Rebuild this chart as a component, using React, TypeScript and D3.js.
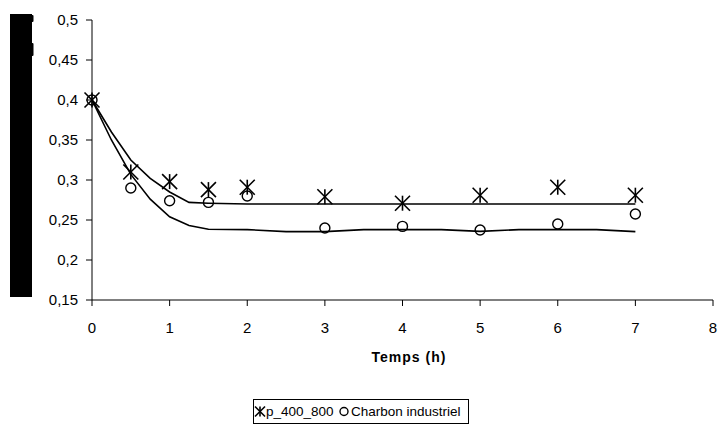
import React from "react";
import * as d3 from "d3";

const times = [0, 0.5, 1, 1.5, 2, 3, 4, 5, 6, 7];
const pSeries = [0.4, 0.31, 0.298, 0.288, 0.291, 0.279, 0.271, 0.281, 0.291, 0.281];
const charbonSeries = [0.4, 0.29, 0.274, 0.272, 0.28, 0.24, 0.242, 0.2375, 0.245, 0.2575];

const modelTimes = [0, 0.25, 0.5, 0.75, 1, 1.25, 1.5, 2, 2.5, 3, 3.5, 4, 4.5, 5, 5.5, 6, 6.5, 7];
const pModel = [0.4, 0.36, 0.325, 0.302, 0.285, 0.272, 0.271, 0.27, 0.27, 0.27, 0.27, 0.27, 0.27, 0.27, 0.27, 0.27, 0.27, 0.27];
const charbonModel = [0.4, 0.35, 0.307, 0.276, 0.254, 0.243, 0.2385, 0.238, 0.2355, 0.2355, 0.238, 0.238, 0.238, 0.2358, 0.238, 0.238, 0.238, 0.2355];

const xTicks = [0, 1, 2, 3, 4, 5, 6, 7, 8];
const yTicks = [0.15, 0.2, 0.25, 0.3, 0.35, 0.4, 0.45, 0.5];
const xTitle = "Temps (h)";
const legendLabels = ["p_400_800", "Charbon industriel"];

const FONT = "'Liberation Sans', Arial, sans-serif";

function Asterisk({ x, y, s }: { x: number; y: number; s: number }) {
  return (
    <g stroke="#000" strokeWidth={1.6} fill="none">
      <line x1={x - s} y1={y - s} x2={x + s} y2={y + s} />
      <line x1={x - s} y1={y + s} x2={x + s} y2={y - s} />
      <line x1={x} y1={y - s} x2={x} y2={y + s} />
    </g>
  );
}

export default function App() {
  const x = d3.scaleLinear().domain([0, 8]).range([92, 713]);
  const y = d3.scaleLinear().domain([0.15, 0.5]).range([300, 20]);
  const fmt = (v: number) => d3.format("~g")(+v.toFixed(2)).replace(".", ",");
  const line = d3
    .line<number>()
    .x((_, i) => x(modelTimes[i]))
    .y((d) => y(d));

  return (
    <svg
      width={718}
      height={427}
      style={{ position: "absolute", left: 0, top: 0, background: "#fff" }}
      fontFamily={FONT}
    >
      <rect x={0} y={0} width={718} height={427} fill="#fff" />
      {/* black block at left */}
      <rect x={10} y={14} width={22} height={283} fill="#000" />
      <rect x={31} y={15} width={2.5} height={7} fill="#000" rx={1} />
      <rect x={31} y={43} width={2.5} height={13} fill="#000" rx={1} />

      {/* axes */}
      <line x1={x(0)} y1={y(0.5)} x2={x(0)} y2={y(0.15)} stroke="#000" strokeWidth={1} />
      <line x1={x(0)} y1={y(0.15)} x2={x(8)} y2={y(0.15)} stroke="#000" strokeWidth={1} />
      {yTicks.map((t) => (
        <g key={"y" + t}>
          <line x1={x(0) - 6} x2={x(0)} y1={y(t)} y2={y(t)} stroke="#000" />
          <text x={78} y={y(t)} dy="0.35em" textAnchor="end" fontSize={15} fill="#000">
            {fmt(t)}
          </text>
        </g>
      ))}
      {xTicks.map((t) => (
        <g key={"x" + t}>
          <line x1={x(t)} x2={x(t)} y1={y(0.15)} y2={y(0.15) + 6} stroke="#000" />
          <text x={x(t)} y={328} dy="0.35em" textAnchor="middle" fontSize={15} fill="#000">
            {t}
          </text>
        </g>
      ))}
      <text
        x={409}
        y={362}
        textAnchor="middle"
        fontSize={14}
        fontWeight="bold"
        letterSpacing={1}
        fill="#000"
      >
        {xTitle}
      </text>

      {/* model lines */}
      <path d={line(pModel) || ""} fill="none" stroke="#000" strokeWidth={1.6} />
      <path d={line(charbonModel) || ""} fill="none" stroke="#000" strokeWidth={1.6} />

      {/* markers */}
      {charbonSeries.map((v, i) => (
        <circle key={"c" + i} cx={x(times[i])} cy={y(v)} r={5} fill="none" stroke="#000" strokeWidth={1.4} />
      ))}
      {pSeries.map((v, i) => (
        <Asterisk key={"p" + i} x={x(times[i])} y={y(v)} s={7.5} />
      ))}

      {/* legend */}
      <rect x={253.5} y={399.5} width={215} height={24} fill="#fff" stroke="#000" strokeWidth={1} />
      <Asterisk x={260} y={411.5} s={5} />
      <text x={266} y={411.5} dy="0.35em" fontSize={13.5} fill="#000">
        {legendLabels[0]}
      </text>
      <circle cx={344} cy={411.5} r={4} fill="none" stroke="#000" strokeWidth={1.4} />
      <text x={351} y={411.5} dy="0.35em" fontSize={13.5} fill="#000">
        {legendLabels[1]}
      </text>
    </svg>
  );
}
